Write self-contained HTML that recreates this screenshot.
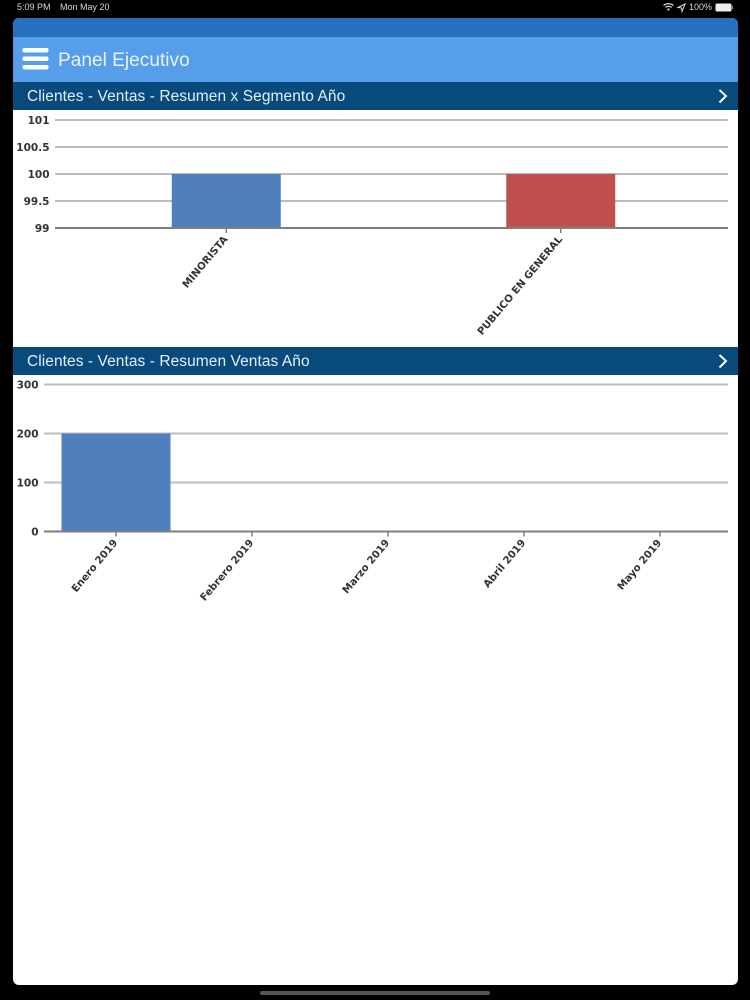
<!DOCTYPE html>
<html lang="es">
<head>
<meta charset="utf-8">
<title>Panel Ejecutivo</title>
<style>
html,body{margin:0;padding:0;width:750px;height:1000px;overflow:hidden;background:#000;}
body{position:relative;font-family:"Liberation Sans",sans-serif;}
.abs{position:absolute;}
#app{left:12.5px;top:18px;width:725px;height:966.5px;background:#fff;border-radius:6px;overflow:hidden;}
#strip{left:0;top:0;width:725px;height:19px;background:#2571c0;}
#header{left:0;top:19px;width:725px;height:45px;background:#569eea;}
.bar{left:0;width:725px;height:28px;background:#084a7c;}
.t{position:absolute;color:#fff;white-space:nowrap;}
.st{left:14.5px;top:6px;font-size:15.5px;line-height:18px;letter-spacing:.07px;color:#e4f0fa;}
#ptitle{left:45.5px;top:13px;font-size:19px;line-height:22px;letter-spacing:.05px;color:#e8f3fd;}
svg{position:absolute;left:0;top:0;}
.status{position:absolute;color:#d8d8d8;font-size:9px;line-height:11px;top:2px;white-space:nowrap;}
#home{left:260px;top:990.5px;width:230px;height:4px;border-radius:2px;background:#555;}
</style>
</head>
<body>
<div class="status" style="left:17px">5:09 PM</div>
<div class="status" style="left:60px">Mon May 20</div>
<div class="status" style="left:689px">100%</div>
<svg width="750" height="18">
  <path d="M663.5 5.5a8 8 0 0 1 10 0M665.3 7.4a5.2 5.2 0 0 1 6.4 0" fill="none" stroke="#ddd" stroke-width="1.2"/>
  <circle cx="668.5" cy="9.5" r="1.1" fill="#ddd"/>
  <path d="M685 4 L678 7.5 L681.5 8 L682 11.5 Z" fill="none" stroke="#ddd" stroke-width="1"/>
  <rect x="715.5" y="3.5" width="16" height="8" rx="1.5" fill="#eee"/>
  <rect x="732" y="6" width="1" height="3" fill="#999"/>
</svg>

<div id="app" class="abs">
  <div id="strip" class="abs"></div>
  <div id="header" class="abs">
    <svg width="40" height="45">
      <rect x="9.5" y="11" width="26" height="4.5" rx="2" fill="#fff"/>
      <rect x="9.5" y="19.5" width="26" height="4.5" rx="2" fill="#fff"/>
      <rect x="9.5" y="28" width="26" height="4.5" rx="2" fill="#fff"/>
    </svg>
    <div id="ptitle" class="t">Panel Ejecutivo</div>
  </div>
  <div class="abs bar" style="top:64px">
    <div class="t st">Clientes - Ventas - Resumen x Segmento Año</div>
    <svg width="725" height="28"><path d="M706.5 8 L713 14 L706.5 20.5" fill="none" stroke="#fff" stroke-width="2"/></svg>
  </div>
  <div class="abs bar" style="top:329px">
    <div class="t st">Clientes - Ventas - Resumen Ventas Año</div>
    <svg width="725" height="28"><path d="M706.5 8 L713 14 L706.5 20.5" fill="none" stroke="#fff" stroke-width="2"/></svg>
  </div>
</div>
<div id="home" class="abs"></div>

<svg id="charts" width="750" height="1000"></svg>

<script>
var segmentCategories = ["MINORISTA", "PUBLICO EN GENERAL"];
var segmentValues = [100, 100];
var segmentTicks = [99, 99.5, 100, 100.5, 101];
var salesCategories = ["Enero 2019", "Febrero 2019", "Marzo 2019", "Abril 2019", "Mayo 2019"];
var salesValues = [200, 0, 0, 0, 0];
var salesTicks = [0, 100, 200, 300];

var NS = "http://www.w3.org/2000/svg";
var root = document.getElementById("charts");

function make(tag, attrs, parent) {
  var el = document.createElementNS(NS, tag);
  for (var k in attrs) el.setAttribute(k, attrs[k]);
  parent.appendChild(el);
  return el;
}

function drawChart(cfg) {
  var g = make("g", {}, root);
  
  
  var min = cfg.ticks[0], max = cfg.ticks[cfg.ticks.length - 1];
  function y(v) { return cfg.yBottom - (v - min) / (max - min) * (cfg.yBottom - cfg.yTop); }
  var band = (cfg.x1 - cfg.x0) / cfg.categories.length;
  function x(i) { return cfg.x0 + band * (i + 0.5); }

  cfg.ticks.forEach(function (t) {
    if (t !== min) {
      var line = make("line", {x1: cfg.x0 - 4, x2: cfg.x1, y1: y(t), y2: y(t), stroke: "#bdbdbd", "stroke-width": 2}, g);
      
      
    }
    var label = make("text", {x: cfg.x0 - 9.5, y: y(t) + 4, "text-anchor": "end", "font-family": "'DejaVu Sans',sans-serif", "font-weight": "bold", "font-size": 10.5, fill: "#333"}, g);
    
    
    label.textContent = String(t);
  });

  cfg.values.forEach(function (v, i) {
    var top = y(v), bottom = y(min);
    var rect = make("rect", {x: x(i) - cfg.barWidth / 2, y: top, width: cfg.barWidth, height: Math.max(0, bottom - top), fill: cfg.colors[i % cfg.colors.length]}, g);
    
    
  });

  var axis = make("line", {x1: cfg.x0 - 4, x2: cfg.x1, y1: y(min), y2: y(min), stroke: "#7f7f7f", "stroke-width": 2}, g);
  
  

  cfg.categories.forEach(function (c, i) {
    var px = x(i), py = y(min);
    var tick = make("line", {x1: px, x2: px, y1: py, y2: py + 5, stroke: "#7f7f7f", "stroke-width": 1.5}, g);
    
    
    var lx = px + 2, ly = py + 11.5;
    var label = make("text", {x: lx, y: ly, "text-anchor": "end", transform: "rotate(-50 " + lx + " " + ly + ")", "font-family": "'DejaVu Sans',sans-serif", "font-weight": "bold", "font-size": 10.2, fill: "#333"}, g);
    
    
    label.textContent = c;
  });
}

drawChart({name: "segment-chart", categories: segmentCategories, values: segmentValues, ticks: segmentTicks,
  x0: 59, x1: 728, yTop: 120, yBottom: 228, barWidth: 109, colors: ["#4f7fbc", "#c0504d"]});
drawChart({name: "sales-chart", categories: salesCategories, values: salesValues, ticks: salesTicks,
  x0: 48, x1: 728, yTop: 384.5, yBottom: 531.5, barWidth: 109, colors: ["#4f7fbc"]});
</script>
</body>
</html>
